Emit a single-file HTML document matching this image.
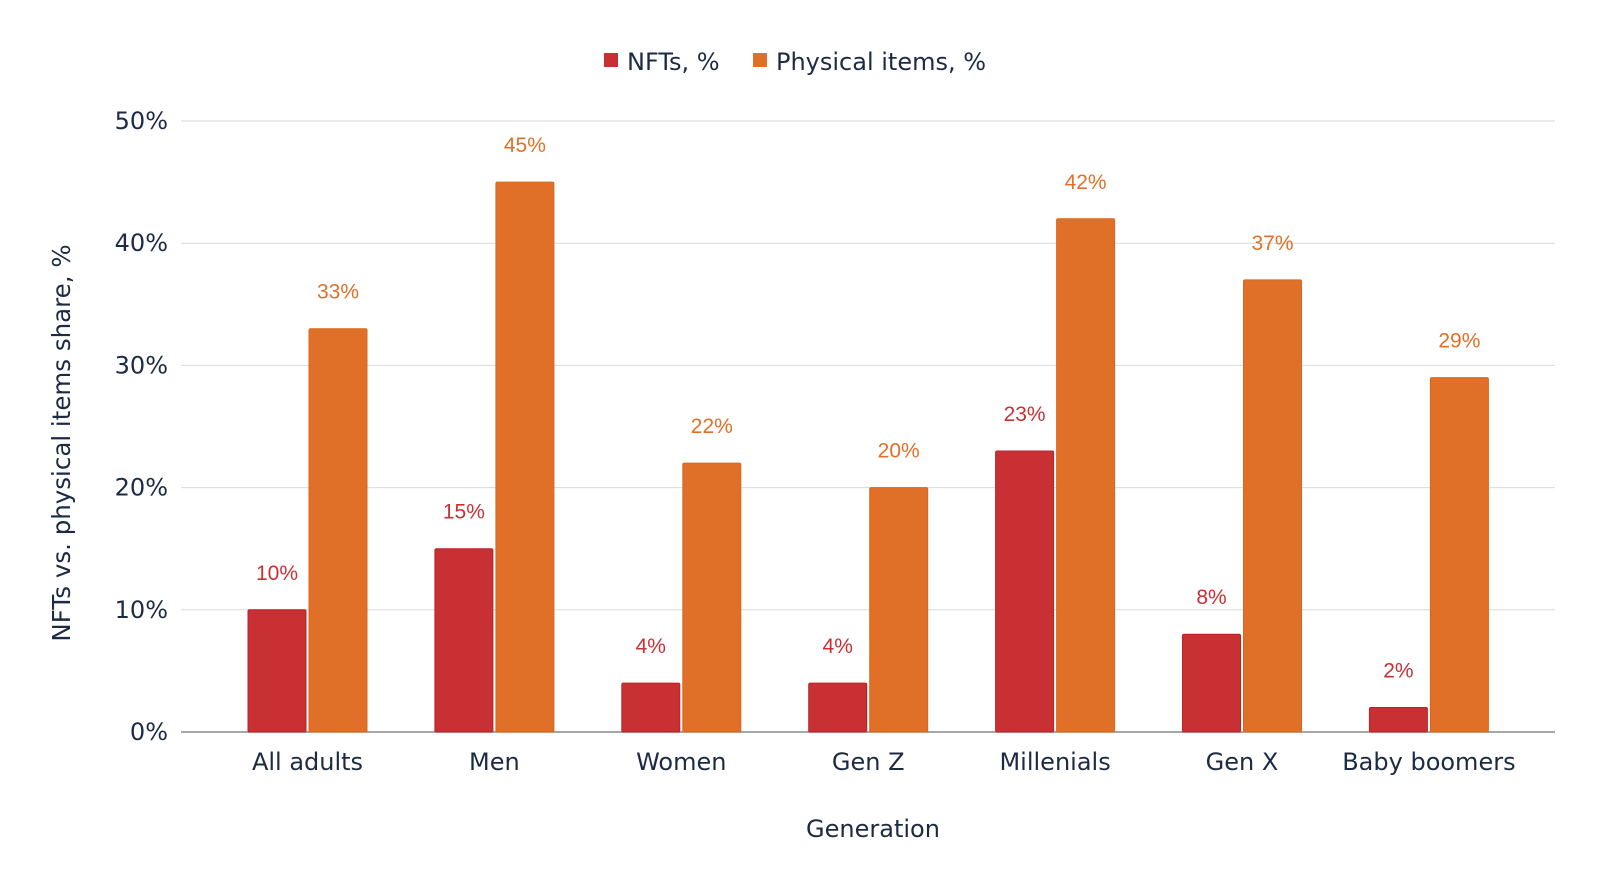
<!DOCTYPE html>
<html><head><meta charset="utf-8"><style>
body{margin:0;background:#fff;}
svg{display:block;}
.t{font-family:"DejaVu Sans","Liberation Sans",sans-serif;fill:#1c2a44;}
.v{font-family:"Liberation Sans",sans-serif;font-size:21px;}
</style></head><body>
<svg id="c" width="1600" height="889">
<g id="grid"></g><g id="bars"></g><g id="labels"></g>
<g>
<rect x="604" y="53" width="14" height="14" fill="#c93034"/>
<text class="t" x="627" y="70" font-size="24">NFTs, %</text>
<rect x="753" y="53" width="14" height="14" fill="#e07027"/>
<text class="t" x="776" y="70" font-size="24">Physical items, %</text>
</g>
<text class="t" x="0" y="0" font-size="24.5" text-anchor="middle" transform="translate(70,443) rotate(-90)">NFTs vs. physical items share, %</text>
<text class="t" x="873" y="837" font-size="24" text-anchor="middle">Generation</text>
</svg>
<script>
const categories=["All adults","Men","Women","Gen Z","Millenials","Gen X","Baby boomers"];
const nfts=[10,15,4,4,23,8,2];
const physical=[33,45,22,20,42,37,29];
const ticks=[0,10,20,30,40,50];
const NS="http://www.w3.org/2000/svg";
const y0=732,pxPer=12.22,x0=181,x1=1555,firstC=307.5,step=186.9,bw=58,gap=3;
const y=v=>y0-v*pxPer;
const cx=i=>firstC+i*step;
function mk(tag,attrs,parent,text){const e=document.createElementNS(NS,tag);for(const k in attrs)e.setAttribute(k,attrs[k]);if(text!=null)e.textContent=text;document.getElementById(parent).appendChild(e);return e;}
ticks.forEach(t=>{
 const l=mk('line',{x1:x0,x2:x1,y1:y(t),y2:y(t),stroke:t===0?'#888':'#d9d9d9','stroke-width':t===0?1.5:1},'grid');
 
 
 const tx=mk('text',{x:168,y:y(t)+8,'text-anchor':'end','font-size':24,class:'t'},'grid',t+'%');
 
 
});
categories.forEach((c,i)=>{
 const rx=cx(i)-gap/2-bw, ox=cx(i)+gap/2;
 const r=mk('rect',{x:rx,y:y(nfts[i]),width:bw,height:nfts[i]*pxPer,fill:'#c93034',stroke:'#b82227','stroke-width':1,rx:1.5},'bars');
 
 
 const o=mk('rect',{x:ox,y:y(physical[i]),width:bw,height:physical[i]*pxPer,fill:'#e07027',stroke:'#d9661c','stroke-width':1,rx:1.5},'bars');
 
 
 const a=mk('text',{x:rx+bw/2,y:y(nfts[i])-30,'text-anchor':'middle',fill:'#c93034',class:'v'},'labels',nfts[i]+'%');
 
 
 const b=mk('text',{x:ox+bw/2,y:y(physical[i])-30,'text-anchor':'middle',fill:'#e07027',class:'v'},'labels',physical[i]+'%');
 
 
 const cl=mk('text',{x:cx(i),y:770,'text-anchor':'middle','font-size':24,class:'t'},'labels',c);
 
 
});
</script>
</body></html>
